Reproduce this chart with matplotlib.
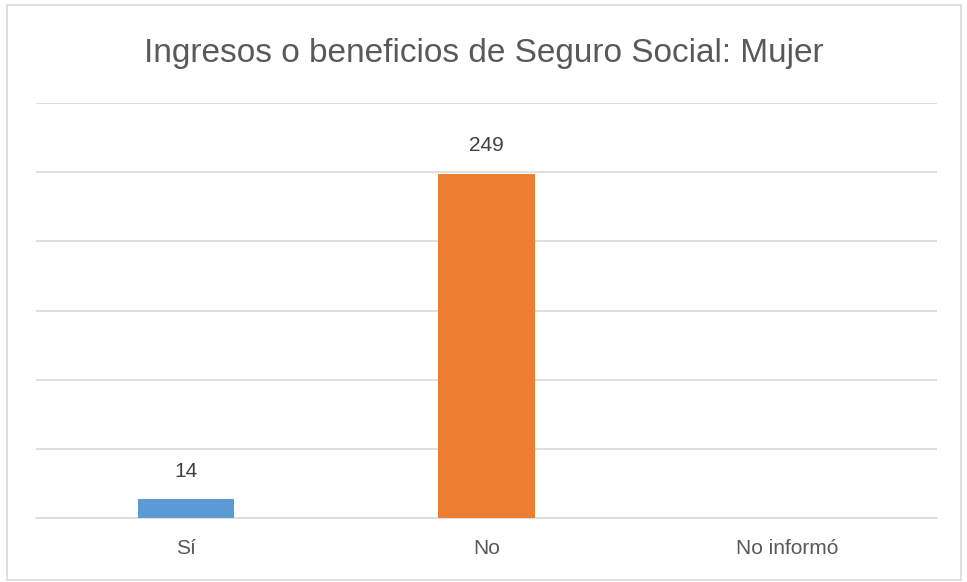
import matplotlib.pyplot as plt
from matplotlib.patches import Rectangle

categories = ["Sí", "No", "No informó"]
values = [14, 249, None]
colors = ["#5B9BD5", "#ED7D31", "#A5A5A5"]

plt.rcParams['font.family'] = ['Liberation Sans', 'DejaVu Sans']

fig = plt.figure(figsize=(9.67, 5.82), dpi=100)
fig.patches.append(Rectangle((0.007, 0.004), 0.987, 0.988, transform=fig.transFigure,
                             fill=False, edgecolor="#D9D9D9", linewidth=1.2))

ax = fig.add_axes([36 / 967, 1 - 518 / 582, 901 / 967, 415 / 582])
x = list(range(len(categories)))
for i, v in enumerate(values):
    if v is None:
        continue
    ax.bar(i, v, width=0.32, color=colors[i], zorder=3)
    ax.annotate(str(v), (i, v), xytext=(0, 13), textcoords="offset points",
                ha="center", va="bottom", fontsize=15, color="#404040")

ax.set_xlim(-0.5, 2.5)
ax.set_ylim(0, 300)
ax.set_yticks(range(0, 301, 50))
ax.set_yticklabels([])
ax.tick_params(axis="y", length=0)
ax.tick_params(axis="x", length=0, pad=15, labelsize=15, labelcolor="#595959")
ax.set_xticks(x)
ax.set_xticklabels(categories)
ax.grid(axis="y", color="#D9D9D9", linewidth=1.2, zorder=0)
for s in ["top", "right", "left"]:
    ax.spines[s].set_visible(False)
ax.spines["bottom"].set_color("#D9D9D9")
ax.spines["bottom"].set_linewidth(1.2)

fig.text(0.5, 1 - 62 / 582, "Ingresos o beneficios de Seguro Social: Mujer",
         ha="center", va="baseline", fontsize=24, color="#595959")

fig.savefig("out.png", dpi=100)
